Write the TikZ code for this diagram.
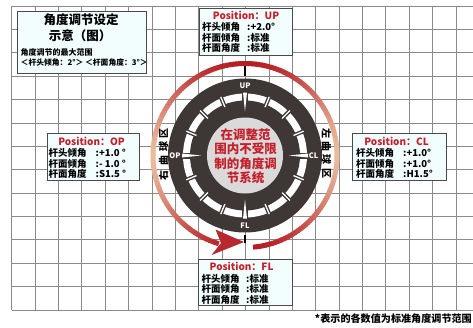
\documentclass[tikz,border=0pt]{standalone}
\usepackage{fontspec}
\setmainfont{Noto Sans CJK SC}
\usetikzlibrary{calc}
\definecolor{gridc}{HTML}{8A8A8A}
\definecolor{boxfill}{HTML}{F2FDFD}
\definecolor{boxdraw}{HTML}{4A4A4A}
\definecolor{redt}{HTML}{C4202C}
\definecolor{disk}{HTML}{3E3735}
\definecolor{innerc}{HTML}{DADADA}
\definecolor{arcred}{HTML}{B41E24}
\definecolor{arcpeach}{HTML}{EBBB9E}
\begin{document}
\begin{tikzpicture}[x=1pt,y=-1pt,
  gridline/.style={draw=gridc, line width=0.75pt},
  posbox/.style={draw=boxdraw, line width=1.1pt, fill=boxfill, anchor=north west, inner sep=0pt},
  lbl/.style={font=\fontsize{9.5}{10}\selectfont\bfseries, inner sep=0pt, anchor=west},
  ttl/.style={font=\fontsize{10}{11}\selectfont\bfseries, text=redt, inner sep=0pt},
  dirlbl/.style={font=\fontsize{7.5}{8}\selectfont\bfseries, text=white, inner sep=0pt},
  sidech/.style={font=\fontsize{10}{10}\selectfont\bfseries, inner sep=0pt}]
\useasboundingbox (0,0) rectangle (473,327);
\fill[white] (0,0) rectangle (473,327);
% grid
\foreach \i in {0,...,19} \draw[gridline] ({11.7+23.38*\i},6) -- ({11.7+23.38*\i},310.2);
\foreach \j in {0,...,13} \draw[gridline] (11.7,{6+23.38*\j}) -- (473,{6+23.38*\j});
\def\cx{245}\def\cy{155.5}
% gradient arc
\foreach \a in {-85,-83,...,251} {
  \pgfmathsetmacro\b{\a+2.5}
  \pgfmathsetmacro\p{100*(abs(sin(\a)))^1.6}
  \draw[line width=5pt, color=arcred!\p!arcpeach] plot[domain=\a:\b, samples=3] ({\cx+92*cos(\x)},{\cy-92*sin(\x)});
}
% arrowhead
\fill[arcred!95!white] (244,242) -- (215.5,229.5) -- (221,243) -- (211.5,255) -- cycle;
% small black ticks
\draw[black, line width=1.5pt] (\cx,66) -- (\cx,76);
\draw[black, line width=1.5pt] (\cx,235) -- (\cx,243);
% dial
\fill[disk] (\cx,\cy) circle[radius=77];
\fill[white] (\cx,\cy) circle[radius=62];
\fill[disk] (\cx,\cy) circle[radius=55];
\foreach \a in {22.5,45,67.5,112.5,135,157.5,202.5,225,247.5,292.5,315,337.5} {
  \draw[disk, line width=4pt] ({\cx+53*cos(\a)},{\cy-53*sin(\a)}) -- ({\cx+64*cos(\a)},{\cy-64*sin(\a)});
  \draw[white, line width=1.3pt] ({\cx+52.5*cos(\a)},{\cy-52.5*sin(\a)}) -- ({\cx+63.5*cos(\a)},{\cy-63.5*sin(\a)});
}
\foreach \a in {0,90,180,270} {
  \draw[disk, line width=6pt] ({\cx+45*cos(\a)},{\cy-45*sin(\a)}) -- ({\cx+64*cos(\a)},{\cy-64*sin(\a)});
  \fill[white] ({\cx+63*cos(\a)+2*sin(\a)},{\cy-63*sin(\a)+2*cos(\a)}) -- ({\cx+63*cos(\a)-2*sin(\a)},{\cy-63*sin(\a)-2*cos(\a)}) -- ({\cx+44*cos(\a)},{\cy-44*sin(\a)}) -- cycle;
}
\fill[innerc] (\cx,\cy) circle[radius=38];
\node[dirlbl] (lup) at (\cx,85.5) {UP};
\node[dirlbl] (lcl) at (313.5,155.5) {CL};
\node[dirlbl] (lfl) at (\cx,225.5) {FL};
\node[dirlbl] (lop) at (175,155.5) {OP};
\node[font=\fontsize{12.5}{14.4}\selectfont\bfseries, text=redt, align=center, inner sep=0pt] (ctext) at (245.5,156.5)
  {在调整范\\围内不受限\\制的角度调\\节系统};
% side texts
\node[sidech, rotate=90] (r1) at (163.5,175) {右};
\node[sidech, rotate=90] (r2) at (163.5,160) {曲};
\node[sidech, rotate=90] (r3) at (163.5,146.5) {球};
\node[sidech, rotate=90] (r4) at (163.5,133) {区};
\node[sidech, rotate=-90] (l1) at (326.5,133) {左};
\node[sidech, rotate=-90] (l2) at (326.5,146) {曲};
\node[sidech, rotate=-90] (l3) at (326.5,159) {球};
\node[sidech, rotate=-90] (l4) at (326.5,173) {区};
% title box
\node[posbox, minimum width=129pt, minimum height=62pt] (tbox) at (17,11) {};
\node[font=\fontsize{12.5}{14}\selectfont\bfseries, inner sep=0pt] (t1) at (81,20) {角度调节设定};
\node[font=\fontsize{12.5}{14}\selectfont\bfseries, inner sep=0pt] (t2) at (80,35.5) {示意（图）};
\node[font=\fontsize{8}{9}\selectfont\bfseries, inner sep=0pt, anchor=west] (t3) at (20.5,52.3) {角度调节的最大范围};
\node[font=\fontsize{7.8}{9}\selectfont\bfseries, inner sep=0pt, anchor=west] (t4) at (20.5,62.5) {＜杆头倾角：2°＞ ＜杆面角度：3°＞};
% UP box
\node[posbox, minimum width=93pt, minimum height=46.5pt] (up) at (199,8) {};
\node[ttl] (upT) at ($(up.north)+(0,7.2)$) {Position：UP};
\node[lbl] (up1) at ($(up.north west)+(3,19)$) {杆头倾角};
\node[lbl] (up2) at ($(up.north west)+(3,29.5)$) {杆面倾角};
\node[lbl] (up3) at ($(up.north west)+(3,40)$) {杆面角度};
\node[lbl] (up1v) at ($(up.north west)+(48,19)$) {:+2.0°};
\node[lbl] (up2v) at ($(up.north west)+(48,29.5)$) {:标准};
\node[lbl] (up3v) at ($(up.north west)+(48,40)$) {:标准};
% OP box
\node[posbox, minimum width=92pt, minimum height=46.5pt] (op) at (47,133) {};
\node[ttl] (opT) at ($(op.north)+(-2,8)$) {Position：OP};
\node[lbl] (op1) at ($(op.north west)+(1.5,20)$) {杆头倾角};
\node[lbl] (op2) at ($(op.north west)+(1.5,30.5)$) {杆面倾角};
\node[lbl] (op3) at ($(op.north west)+(1.5,41)$) {杆面角度};
\node[lbl] (op1v) at ($(op.north west)+(48.5,20)$) {:+1.0 °};
\node[lbl] (op2v) at ($(op.north west)+(48.5,30.5)$) {:- 1.0 °};
\node[lbl] (op3v) at ($(op.north west)+(48.5,41)$) {:S1.5 °};
% CL box
\node[posbox, minimum width=94pt, minimum height=46.5pt] (cl) at (352,133) {};
\node[ttl] (clT) at ($(cl.north)+(-3,8)$) {Position：CL};
\node[lbl] (cl1) at ($(cl.north west)+(4,20)$) {杆头倾角};
\node[lbl] (cl2) at ($(cl.north west)+(4,30.5)$) {杆面倾角};
\node[lbl] (cl3) at ($(cl.north west)+(4,41)$) {杆面角度};
\node[lbl] (cl1v) at ($(cl.north west)+(51,20)$) {:+1.0°};
\node[lbl] (cl2v) at ($(cl.north west)+(51,30.5)$) {:+1.0°};
\node[lbl] (cl3v) at ($(cl.north west)+(51,41)$) {:H1.5°};
% FL box
\node[posbox, minimum width=94pt, minimum height=46.5pt] (fl) at (198,258.5) {};
\node[ttl] (flT) at ($(fl.north)+(-4,8)$) {Position：FL};
\node[lbl] (fl1) at ($(fl.north west)+(3.5,20)$) {杆头倾角};
\node[lbl] (fl2) at ($(fl.north west)+(3.5,30.5)$) {杆面倾角};
\node[lbl] (fl3) at ($(fl.north west)+(3.5,41)$) {杆面角度};
\node[lbl] (fl1v) at ($(fl.north west)+(48,20)$) {:标准};
\node[lbl] (fl2v) at ($(fl.north west)+(48,30.5)$) {:标准};
\node[lbl] (fl3v) at ($(fl.north west)+(48,41)$) {:标准};
% footnote
\node[font=\fontsize{10.1}{11}\selectfont\bfseries, inner sep=0pt, anchor=east] (note) at (472,318.5) {*表示的各数值为标准角度调节范围};
\end{tikzpicture}
\end{document}
